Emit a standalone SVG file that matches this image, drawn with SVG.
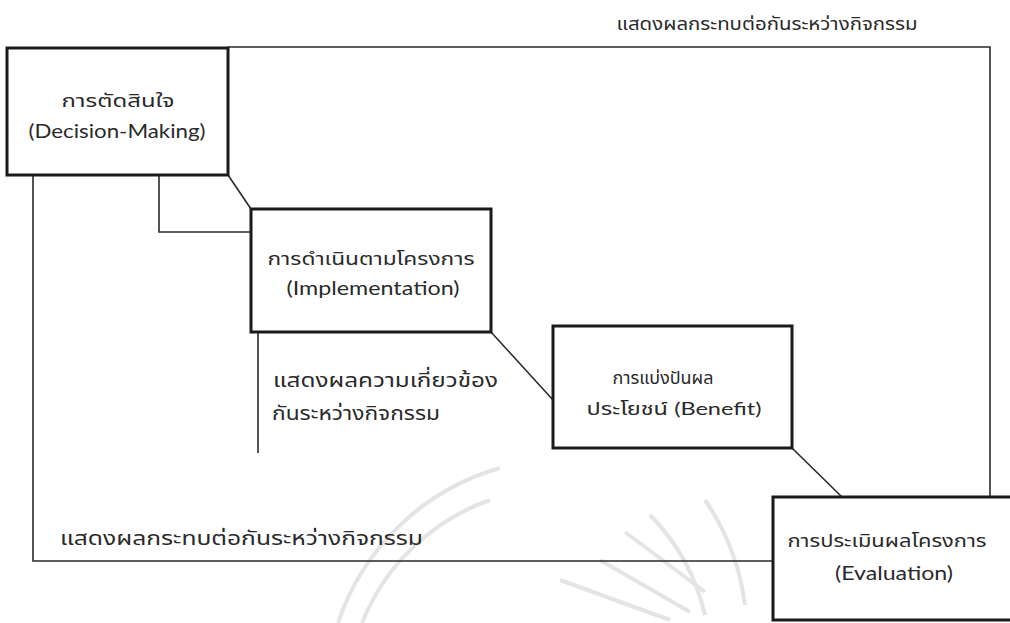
<svg xmlns="http://www.w3.org/2000/svg" width="1010" height="623" viewBox="0 0 1010 623">
<style>
.box{fill:#fff;stroke:#1a1a1a;stroke-width:3}
.ln{fill:none;stroke:#2a2a2a;stroke-width:1.6}
.wm{fill:none;stroke:#e4e4e4;stroke-width:4}
text{font-family:"Noto Sans Thai","Noto Sans","Lato",sans-serif;fill:#2a2a2a;text-anchor:middle}
.en{font-family:"Lato","Open Sans","Noto Sans",sans-serif}
</style>
<rect width="1010" height="623" fill="#fff"/>
<g id="watermark">
<path class="wm" d="M338,623 A240,240 0 0 1 500,468"/>
<path class="wm" d="M362,623 A215,215 0 0 1 490,500"/>
<path class="wm" d="M705,615 A210,210 0 0 0 650,515"/>
<path class="wm" d="M745,605 A240,240 0 0 0 705,500"/>
<path class="wm" d="M600,560 L690,612"/>
<path class="wm" d="M625,532 L705,592"/>
<path class="wm" d="M560,580 L670,620"/>
</g>
<g id="connectors">
<polyline class="ln" points="228,47 990,47 990,497"/>
<line class="ln" x1="228" y1="175" x2="251" y2="209"/>
<polyline class="ln" points="159,175 159,232 251,232"/>
<polyline class="ln" points="33,175 33,561 773,561"/>
<line class="ln" x1="491" y1="332" x2="553" y2="400"/>
<line class="ln" x1="258" y1="332" x2="258" y2="453"/>
<line class="ln" x1="792" y1="448" x2="842" y2="497"/>
</g>
<g id="decision">
<rect class="box" x="7" y="48" width="221" height="127"/>
<text x="118" y="107" font-size="17" textLength="113" lengthAdjust="spacingAndGlyphs">การตัดสินใจ</text>
<text class="en" x="117" y="138" font-size="20" textLength="177" lengthAdjust="spacingAndGlyphs">(Decision-Making)</text>
</g>
<g id="implementation">
<rect class="box" x="251" y="209" width="240" height="123"/>
<text x="371" y="265" font-size="17" textLength="207" lengthAdjust="spacingAndGlyphs">การดำเนินตามโครงการ</text>
<text class="en" x="373" y="295" font-size="20" textLength="173" lengthAdjust="spacingAndGlyphs">(Implementation)</text>
</g>
<g id="benefit">
<rect class="box" x="553" y="326" width="239" height="122"/>
<text x="663" y="384" font-size="17" textLength="101" lengthAdjust="spacingAndGlyphs">การแบ่งปันผล</text>
<text x="674" y="415" font-size="18" textLength="175" lengthAdjust="spacingAndGlyphs">ประโยชน์ <tspan class="en">(Benefit)</tspan></text>
</g>
<g id="evaluation">
<rect class="box" x="773" y="497" width="260" height="123"/>
<text x="887" y="547" font-size="17" textLength="199" lengthAdjust="spacingAndGlyphs">การประเมินผลโครงการ</text>
<text class="en" x="894" y="580" font-size="20" textLength="118" lengthAdjust="spacingAndGlyphs">(Evaluation)</text>
</g>
<g id="labels">
<text x="767" y="30" font-size="17" textLength="301" lengthAdjust="spacingAndGlyphs">แสดงผลกระทบต่อกันระหว่างกิจกรรม</text>
<text x="60" y="545" font-size="19" textLength="363" lengthAdjust="spacingAndGlyphs" style="text-anchor:start">แสดงผลกระทบต่อกันระหว่างกิจกรรม</text>
<text x="273" y="387" font-size="20" textLength="225" lengthAdjust="spacingAndGlyphs" style="text-anchor:start">แสดงผลความเกี่ยวข้อง</text>
<text x="272" y="420" font-size="20" textLength="168" lengthAdjust="spacingAndGlyphs" style="text-anchor:start">กันระหว่างกิจกรรม</text>
</g>
</svg>
